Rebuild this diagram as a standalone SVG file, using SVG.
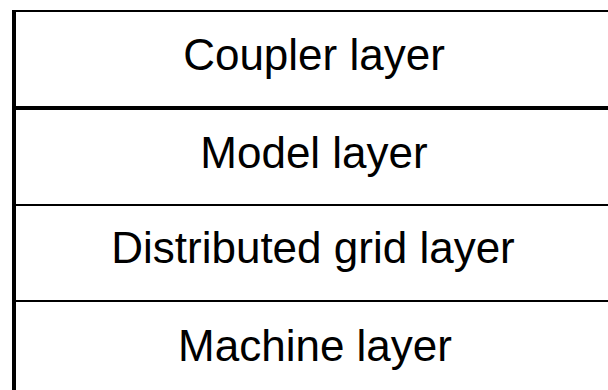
<svg xmlns="http://www.w3.org/2000/svg" width="608" height="390" viewBox="0 0 608 390">
<style>
.t{font-family:"Liberation Sans",Arial,sans-serif;font-size:44px;fill:#000;text-anchor:middle}
.ln{stroke:#000;fill:none}
</style>
<rect width="608" height="390" fill="#fff"/>
<g id="connectors">
<line class="ln" x1="12" y1="11" x2="608" y2="11" stroke-width="2"/>
<line class="ln" x1="12" y1="108" x2="608" y2="108" stroke-width="4"/>
<line class="ln" x1="12" y1="205" x2="608" y2="205" stroke-width="2"/>
<line class="ln" x1="12" y1="301" x2="608" y2="301" stroke-width="2"/>
<line class="ln" x1="14" y1="10" x2="14" y2="390" stroke-width="4"/>
</g>
<g id="coupler"><text class="t" x="314" y="70">Coupler layer</text></g>
<g id="model"><text class="t" x="314" y="168">Model layer</text></g>
<g id="grid"><text class="t" x="313" y="263">Distributed grid layer</text></g>
<g id="machine"><text class="t" x="315" y="361">Machine layer</text></g>
</svg>
